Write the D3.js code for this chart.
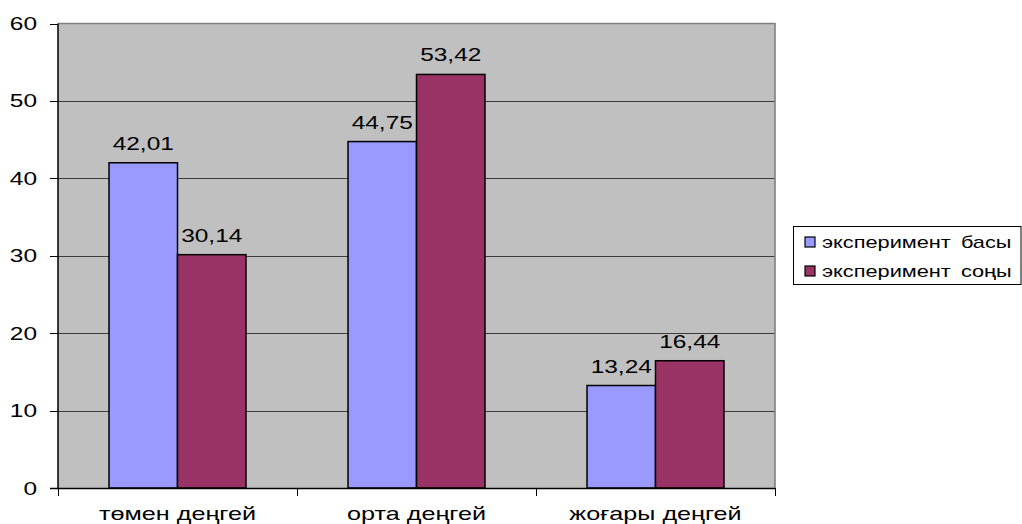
<!DOCTYPE html>
<html>
<head>
<meta charset="utf-8">
<script src="https://cdn.jsdelivr.net/npm/d3@7"></script>
<style>
  html, body { margin: 0; padding: 0; background: #ffffff; }
  svg { display: block; }
  text { font-family: "Liberation Sans", Arial, sans-serif; fill: #000; }
</style>
</head>
<body>
<svg id="chart" width="1022" height="524"></svg>
<script>
// Categories and series
const categories = ["төмен деңгей", "орта деңгей", "жоғары деңгей"];
const seriesNames = ["эксперимент басы", "эксперимент соңы"];
const seriesStart = [42.01, 44.75, 13.24];
const seriesEnd = [30.14, 53.42, 16.44];
const yTicks = [0, 10, 20, 30, 40, 50, 60];
const seriesColors = ["#9999ff", "#993366"];

const W = 1022, H = 524;
const plot = { left: 58, top: 23.5, right: 775, bottom: 488 };
const textStretch = 1.36;

const svg = d3.select("#chart");

const x0 = d3.scaleBand().domain(categories).range([plot.left, plot.right]).padding(0);
const x1 = d3.scaleBand().domain(seriesNames).range([0, x0.bandwidth()]).paddingInner(0).paddingOuter(0.745);
const y = d3.scaleLinear().domain([0, 60]).range([plot.bottom, plot.top]);

// Draw text horizontally widened around its anchor point
function wideText(sel, x, yPos, str, size, anchor) {
  return sel.append("text")
    .attr("transform", `translate(${x},${yPos}) scale(${textStretch},1)`)
    .attr("text-anchor", anchor || "middle")
    .style("font-size", size + "px")
    .text(str);
}

// Plot background
svg.append("rect")
  .attr("x", plot.left).attr("y", plot.top)
  .attr("width", plot.right - plot.left).attr("height", plot.bottom - plot.top)
  .attr("fill", "#c0c0c0");

// Gridlines
svg.append("g")
  .selectAll("line")
  .data(yTicks.filter(d => d > 0 && d < 60))
  .join("line")
  .attr("x1", plot.left).attr("x2", plot.right)
  .attr("y1", d => Math.round(y(d)) + 0.5).attr("y2", d => Math.round(y(d)) + 0.5)
  .attr("stroke", "#3c3c3c").attr("stroke-width", 1);

// Plot border (top and right)
svg.append("path")
  .attr("d", `M${plot.left},${plot.top}H${plot.right}V${plot.bottom}`)
  .attr("fill", "none").attr("stroke", "#808080").attr("stroke-width", 1.6);

// Bars
const rows = categories.map((c, i) => ({ cat: c, vals: [seriesStart[i], seriesEnd[i]] }));
const groups = svg.append("g").selectAll("g")
  .data(rows).join("g")
  .attr("transform", d => `translate(${x0(d.cat)},0)`);

groups.selectAll("rect")
  .data(d => d.vals.map((v, k) => ({ name: seriesNames[k], v, k })))
  .join("rect")
  .attr("x", d => x1(d.name))
  .attr("y", d => y(d.v))
  .attr("width", x1.bandwidth())
  .attr("height", d => y(0) - y(d.v))
  .attr("fill", d => seriesColors[d.k])
  .attr("stroke", "#000").attr("stroke-width", 1.5);

// Value labels
groups.each(function (d) {
  const g = d3.select(this);
  d.vals.forEach((v, k) => {
    const cx = x1(seriesNames[k]) + x1.bandwidth() / 2;
    wideText(g, cx, y(v) - 13, d3.format(".2f")(v).replace(".", ","), 18, "middle");
  });
});

// Y axis
const yAxis = svg.append("g");
yAxis.append("line")
  .attr("x1", plot.left).attr("x2", plot.left)
  .attr("y1", plot.top).attr("y2", plot.bottom)
  .attr("stroke", "#000").attr("stroke-width", 1.5);
yAxis.selectAll("line.tick")
  .data(yTicks).join("line").attr("class", "tick")
  .attr("x1", plot.left - 8).attr("x2", plot.left)
  .attr("y1", d => Math.round(y(d)) + 0.5).attr("y2", d => Math.round(y(d)) + 0.5)
  .attr("stroke", "#000").attr("stroke-width", 1);
yTicks.forEach(t => {
  wideText(yAxis, 37, y(t) + 6.5, String(t), 18, "end");
});

// X axis
const xAxis = svg.append("g");
xAxis.append("line")
  .attr("x1", plot.left - 8).attr("x2", plot.right)
  .attr("y1", plot.bottom + 0.5).attr("y2", plot.bottom + 0.5)
  .attr("stroke", "#000").attr("stroke-width", 1.5);
const bounds = categories.map(c => x0(c)).concat([plot.right]);
xAxis.selectAll("line.tick")
  .data(bounds).join("line").attr("class", "tick")
  .attr("x1", d => Math.round(d) + 0.5).attr("x2", d => Math.round(d) + 0.5)
  .attr("y1", plot.bottom).attr("y2", plot.bottom + 8)
  .attr("stroke", "#000").attr("stroke-width", 1);
categories.forEach(c => {
  wideText(xAxis, x0(c) + x0.bandwidth() / 2, 520, c, 18.5, "middle");
});

// Legend
const legend = svg.append("g");
legend.append("rect")
  .attr("x", 793.5).attr("y", 226.5).attr("width", 227.5).attr("height", 58)
  .attr("fill", "#fff").attr("stroke", "#000").attr("stroke-width", 1);
seriesNames.forEach((name, k) => {
  const cy = 242 + k * 29;
  legend.append("rect")
    .attr("x", 805).attr("y", cy - 5).attr("width", 10).attr("height", 10)
    .attr("fill", seriesColors[k]).attr("stroke", "#000").attr("stroke-width", 1.2);
  wideText(legend, 822, cy + 5.5, name, 16, "start")
    .style("word-spacing", "3px");
});
</script>
</body>
</html>
